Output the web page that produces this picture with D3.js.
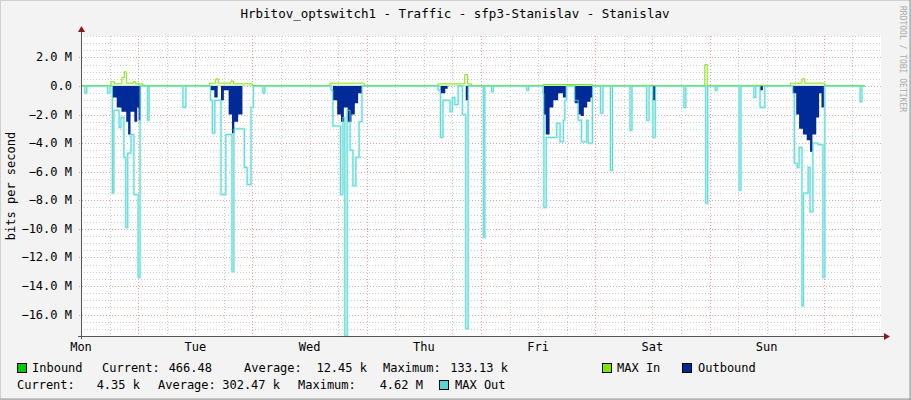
<!DOCTYPE html>
<html><head><meta charset="utf-8">
<script src="https://cdn.jsdelivr.net/npm/d3@7"></script>
<style>body{margin:0;background:#f3f3f3}text{font-family:"DejaVu Sans Mono",monospace}</style>
</head><body><svg id="c" width="911" height="400"></svg>
<script>
const title = "Hrbitov_optswitch1 - Traffic - sfp3-Stanislav - Stanislav";
const dayLabels = ["Mon","Tue","Wed","Thu","Fri","Sat","Sun"];
const yTicks = [2,0,-2,-4,-6,-8,-10,-12,-14,-16];
// [hour, value in Mbit/s] step breakpoints
const maxOut = [[0,0],[0.8,-0.5],[1.2,0],[5.6,-0.5],[6.1,0],[6.6,-7.5],[6.9,-1.7],[8.0,-2.9],[8.4,-2.2],[9.0,-5.0],[9.4,-9.9],[9.8,-4.7],[10.5,-3.4],[11.1,-7.6],[12.0,-13.4],[12.4,0],[14.0,-2.4],[14.3,0],
[21.4,-1.5],[22.0,0],[27.2,-1.0],[27.6,-3.3],[28.1,-1.0],[29.4,-7.6],[30.4,-3.4],[31.7,-13.0],[32.1,-3.0],[34.3,-5.7],[34.9,-6.9],[35.7,-1.5],[36.2,0],[38.2,-0.5],[38.6,0],
[52.5,-0.3],[52.9,-2.8],[54.5,-7.6],[55.0,-2.2],[55.4,-17.5],[55.9,-1.7],[56.5,-4.5],[57.1,-7.0],[57.7,-5.0],[58.4,-2.5],[59.0,0],
[75.0,-0.3],[75.5,-3.6],[76.0,-1.0],[77.5,-1.8],[78.0,-0.8],[78.5,-1.3],[79.2,0],[80.1,-2.0],[80.8,-17.0],[81.3,0],[84.5,-10.6],[84.8,0],[86.2,-0.4],[86.6,0],[93.6,-0.3],[94.0,0],
[97.0,-0.5],[97.2,-8.5],[97.7,-3.6],[99.9,-2.6],[100.6,-3.9],[101.3,-2.4],[101.6,-1.0],[102.0,0],[103.7,-1.0],[104.4,-2.4],[105.1,-3.9],[106.2,-2.4],[106.5,-4.0],[107.4,0],
[109.1,-1.9],[109.6,0],[111.2,-5.9],[111.6,0],[115.3,-3.1],[115.7,0],[118.8,-2.4],[119.3,0],[120.1,-3.6],[120.6,0],[126.6,-1.5],[127.0,0],[131.2,-8.2],[131.6,0],[133.2,-0.3],[133.6,0],
[138.2,-7.3],[138.6,0],[141.3,-0.8],[141.7,0],[142.6,-1.5],[143.6,0],
[149.5,-0.5],[149.8,-5.4],[150.4,-5.7],[150.8,-4.3],[151.4,-15.4],[151.7,-7.5],[152.7,-5.7],[153.1,-8.8],[153.7,-4.0],[154.8,-4.1],[155.8,-13.4],[156.2,0],[163.6,-1.1],[164.0,0],[164.6,0]];
const outbound = [[0,0],[6.6,-0.8],[7.5,-1.5],[8.5,-1.8],[9.5,-2.5],[9.9,-3.4],[10.4,-1.8],[11.2,-2.5],[11.8,-1.5],[12.1,-2.4],[12.5,0],
[27.2,-0.3],[28.0,-0.8],[28.7,0],[29.4,-1.0],[30.0,-0.3],[31.0,-2.0],[31.7,-3.3],[32.2,-2.5],[33.0,-2.0],[33.9,0],
[52.9,-1.0],[53.8,-2.0],[54.6,-2.5],[55.2,-1.5],[56.0,-2.5],[56.8,-2.0],[57.5,-1.2],[58.2,-0.5],[59.0,0],
[75.5,-0.5],[76.5,-0.2],[77.0,0],[80.8,-1.0],[81.3,0],
[97.2,-2.0],[97.6,-3.4],[98.4,-1.5],[99.2,-1.0],[100.2,-0.5],[101.2,-0.8],[101.8,0],[103.7,-1.2],[104.5,-2.0],[105.0,-2.1],[105.6,-1.5],[106.3,-1.1],[107.0,-0.8],[107.4,0],
[120.1,-1.0],[120.6,0],[142.6,-0.3],[143.2,0],
[149.5,-0.5],[150.2,-2.0],[150.8,-3.0],[151.6,-3.4],[152.4,-3.8],[153.1,-4.6],[153.6,-3.4],[154.4,-2.2],[155.0,-0.5],[155.5,-1.5],[156.0,0],[164.6,0]];
const maxIn = [[0,0.02],[6.3,0.3],[7.0,0.15],[8.6,0.6],[9.1,1.0],[9.5,0.2],[11.0,0.3],[11.5,0.15],[13.0,0.02],
[27.0,0.2],[28.3,0.5],[28.8,0.2],[31.5,0.35],[32.0,0.15],[36.0,0.02],[52.3,0.2],[59.5,0.02],
[75.0,0.15],[80.6,0.8],[81.2,0.15],[82.0,0.02],[97.0,0.1],[107.5,0.02],[131.0,1.5],[131.5,0.02],
[149.0,0.2],[151.4,0.5],[152.0,0.2],[156.2,0.02],[164.6,0.02]];
const inbound = [[0,0.01],[164.6,0.01]];

const svg = d3.select("#c");
const L=81,R=881,T=36,B=336;
const x = d3.scaleLinear().domain([0,168]).range([L,R]);
const y = d3.scaleLinear().domain([-17.5,3.5]).range([B,T]);

svg.append("rect").attr("x",0.5).attr("y",0.5).attr("width",910).attr("height",399).attr("fill","#f3f3f3").attr("stroke","#d0d0d0");
svg.append("line").attr("x1",0).attr("x2",911).attr("y1",399).attr("y2",399).attr("stroke","#999");
svg.append("line").attr("x1",910).attr("x2",910).attr("y1",0).attr("y2",400).attr("stroke","#999");
svg.append("rect").attr("x",L).attr("y",T).attr("width",R-L).attr("height",B-T).attr("fill","#fff");

for (let v=-17.5; v<=3.5; v+=0.5){ if (Math.abs(v%2)<1e-9) continue;
  svg.append("line").attr("x1",L).attr("x2",R).attr("y1",Math.round(y(v))+0.5).attr("y2",Math.round(y(v))+0.5).attr("stroke","#ccc").attr("stroke-dasharray","1,2");}
for (let h=6; h<168; h+=6){ if ((h-12)%24===0) continue;
  svg.append("line").attr("x1",Math.round(x(h))+0.5).attr("x2",Math.round(x(h))+0.5).attr("y1",T).attr("y2",B).attr("stroke","#ccc").attr("stroke-dasharray","1,2");}
yTicks.forEach(v=>svg.append("line").attr("x1",L-2).attr("x2",R).attr("y1",Math.round(y(v))+0.5).attr("y2",Math.round(y(v))+0.5).attr("stroke","#e8a0a0").attr("stroke-dasharray","1,2"));
for (let h=12; h<168; h+=24) svg.append("line").attr("x1",Math.round(x(h))+0.5).attr("x2",Math.round(x(h))+0.5).attr("y1",T).attr("y2",B+2).attr("stroke","#e8a0a0").attr("stroke-dasharray","1,2");

const line = d3.line().x(d=>x(d[0])).y(d=>y(d[1])).curve(d3.curveStepAfter);
const area = d3.area().x(d=>x(d[0])).y0(y(0)).y1(d=>y(d[1])).curve(d3.curveStepAfter);
svg.append("path").attr("d",line(maxOut)).attr("fill","none").attr("stroke","#c4f2f2").attr("stroke-width",2.5);
svg.append("path").attr("d",area(outbound)).attr("fill","#002a97");
svg.append("path").attr("d",area(inbound)).attr("fill","#00cc00");
svg.append("path").attr("d",line(maxIn)).attr("fill","none").attr("stroke","#7fe600").attr("stroke-width",1);
svg.append("path").attr("d",line(maxOut)).attr("fill","none").attr("stroke","#55d6d3").attr("stroke-width",0.9);

svg.append("line").attr("x1",L+0.5).attr("x2",L+0.5).attr("y1",B+3).attr("y2",T-6).attr("stroke","#555");
svg.append("line").attr("x1",L-3).attr("x2",R+3).attr("y1",B+0.5).attr("y2",B+0.5).attr("stroke","#555");
svg.append("path").attr("d",`M${L-3},${T-4}L${L+4},${T-4}L${L+0.5},${T-10}Z`).attr("fill","#8b1a1a");
svg.append("path").attr("d",`M${R+3},${B-3}L${R+3},${B+4}L${R+9},${B+0.5}Z`).attr("fill","#8b1a1a");

const fmt = v => v===0 ? "0.0" : d3.format(".1f")(v)+" M";
yTicks.forEach(v=>svg.append("text").attr("x",72).attr("y",y(v)+4).attr("text-anchor","end").attr("font-size",12).attr("fill","#000").text(fmt(v)));
dayLabels.forEach((d,i)=>svg.append("text").attr("x",x(i*24)).attr("y",351).attr("text-anchor","middle").attr("font-size",12).text(d));
svg.append("text").attr("x",455).attr("y",18).attr("text-anchor","middle").attr("font-size",12.5).text(title);
svg.append("text").attr("transform","translate(15,186) rotate(-90)").attr("text-anchor","middle").attr("font-size",12).text("bits per second");
svg.append("text").attr("transform","translate(900,6) rotate(90)").attr("font-size",8).attr("fill","#aaa").text("RRDTOOL / TOBI OETIKER");

const fs=12;
function box(xx,yy,c){svg.append("rect").attr("x",xx+0.5).attr("y",yy+0.5).attr("width",9).attr("height",9).attr("fill",c).attr("stroke","#000");}
function t(xx,yy,s,a){svg.append("text").attr("x",xx).attr("y",yy).attr("font-size",fs).attr("text-anchor",a||"start").text(s);}
box(17,363,"#00cc00"); t(32,372,"Inbound"); t(102,372,"Current:"); t(212,372,"466.48","end");
t(244,372,"Average:"); t(367,372,"12.45 k","end"); t(383,372,"Maximum:"); t(508,372,"133.13 k","end");
box(602,363,"#7fe600"); t(617,372,"MAX In"); box(682,363,"#002a97"); t(698,372,"Outbound");
t(17,389,"Current:"); t(140,389,"4.35 k","end"); t(158,389,"Average:"); t(280,389,"302.47 k","end");
t(298,389,"Maximum:"); t(423,389,"4.62 M","end"); box(439,380,"#55d6d3"); t(455,389,"MAX Out");
</script></body></html>
